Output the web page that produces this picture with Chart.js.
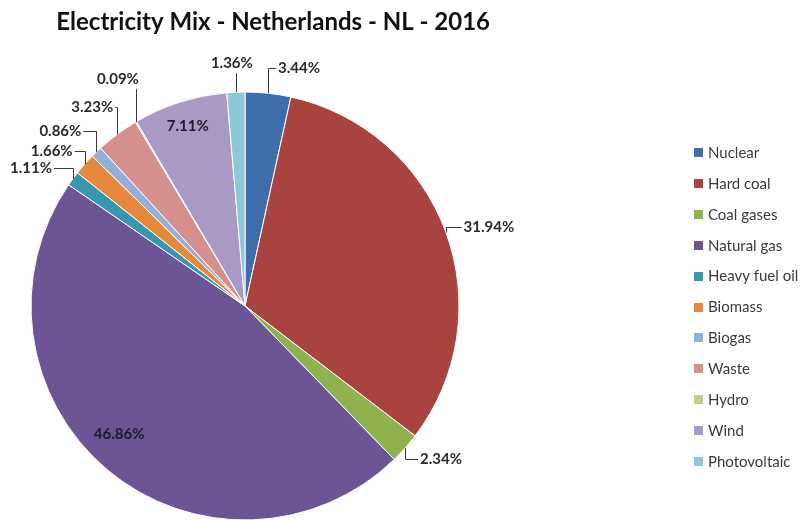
<!DOCTYPE html>
<html>
<head>
<meta charset="utf-8">
<script src="https://cdn.jsdelivr.net/npm/chart.js@4.4.1/dist/chart.umd.min.js"></script>
<style>
    body { margin: 0; background: #fff; }
    canvas { display: block; }
</style>
</head>
<body>
<canvas id="chart" width="804" height="521"></canvas>
<script>
const sources = [
    "Nuclear", "Hard coal", "Coal gases", "Natural gas", "Heavy fuel oil",
    "Biomass", "Biogas", "Waste", "Hydro", "Wind", "Photovoltaic",
];
const shares = [3.44, 31.94, 2.34, 46.86, 1.11, 1.66, 0.86, 3.23, 0.09, 7.11, 1.36];
const sliceColors = [
    "#3f6fab", "#a9433f", "#8fb14e", "#6d5494", "#3697ae",
    "#e6883a", "#93aed9", "#d58f8d", "#bcd08f", "#a99ac5", "#8dc8da",
];

// where each percentage goes: k = fraction of radius at mid angle, then a nudge in px
const labelPlacement = [
    { k: 1, dx: 31, dy: -25 },
    { k: 1, dx: 43, dy: -5 },
    { k: 1, dx: 36, dy: 11 },
    { k: 0.84, dx: -10, dy: -9 },
    { k: 1, dx: -42, dy: -11 },
    { k: 1, dx: -33, dy: -13 },
    { k: 1, dx: -36, dy: -21 },
    { k: 1, dx: -25, dy: -27 },
    { k: 1, dx: -18, dy: -43 },
    { k: 0.88, dx: 0, dy: 0 },
    { k: 1, dx: -4, dy: -29 },
];

const sliceLabels = {
    id: "sliceLabels",
    afterDatasetsDraw(chart) {
        const { ctx } = chart;
        const meta = chart.getDatasetMeta(0);
        ctx.save();
        ctx.font = "bold 15px Lato";
        ctx.textAlign = "center";
        ctx.textBaseline = "middle";
        ctx.strokeStyle = "#3a3a3a";
        ctx.lineWidth = 1;
        meta.data.forEach((arc, i) => {
            const { x, y, startAngle, endAngle, outerRadius } = arc.getProps(
                ["x", "y", "startAngle", "endAngle", "outerRadius"], true);
            const mid = (startAngle + endAngle) / 2;
            const place = labelPlacement[i];
            const ax = x + Math.cos(mid) * outerRadius;
            const ay = y + Math.sin(mid) * outerRadius;
            const tx = x + Math.cos(mid) * outerRadius * place.k + place.dx;
            const ty = y + Math.sin(mid) * outerRadius * place.k + place.dy;
            const text = shares[i].toFixed(2) + "%";
            const w = ctx.measureText(text).width;

            if (place.k >= 1) {
                ctx.beginPath();
                ctx.moveTo(Math.round(ax) + 0.5, ay);
                if (Math.abs(ax - tx) < w / 2) {
                    const edge = ty + (ay > ty ? 10 : -10);
                    ctx.lineTo(Math.round(ax) + 0.5, edge);
                } else {
                    const side = tx + (ax > tx ? w / 2 + 2 : -w / 2 - 2);
                    ctx.lineTo(Math.round(ax) + 0.5, Math.round(ty) + 0.5);
                    ctx.lineTo(side, Math.round(ty) + 0.5);
                }
                ctx.stroke();
                ctx.fillStyle = "#2a2a2a";
            } else {
                ctx.fillStyle = "#1c1a2c";
            }
            ctx.fillText(text, tx, ty);
        });
        ctx.restore();
    },
};

const sideLegend = {
    id: "sideLegend",
    afterDraw(chart) {
        const { ctx } = chart;
        const left = 694;
        const top = 152;
        const step = 30.9;
        ctx.save();
        ctx.font = "15px Lato";
        ctx.textBaseline = "middle";
        sources.forEach((name, i) => {
            const cy = top + i * step;
            ctx.fillStyle = sliceColors[i];
            ctx.fillRect(left, Math.round(cy) - 4, 9, 9);
            ctx.fillStyle = "#3a3a3a";
            ctx.fillText(name, left + 14, cy + 1);
        });
        ctx.restore();
    },
};

new Chart(document.getElementById("chart"), {
    type: "pie",
    data: {
        labels: sources,
        datasets: [
            {
                data: shares,
                backgroundColor: sliceColors,
                borderColor: "#ffffff",
                borderWidth: 1,
                radius: 214,
                clip: false,
            },
        ],
    },
    options: {
        responsive: false,
        animation: false,
        layout: {
            padding: { left: 0, right: 314, top: 0, bottom: 0 },
        },
        plugins: {
            legend: { display: false },
            tooltip: { enabled: false },
            title: {
                display: true,
                text: "Electricity Mix - Netherlands - NL - 2016",
                align: "end",
                color: "#111",
                font: { family: "Lato", size: 24, weight: "bold" },
                padding: { top: 8, bottom: 54.2 },
            },
        },
    },
    plugins: [sliceLabels, sideLegend],
});
</script>
</body>
</html>
